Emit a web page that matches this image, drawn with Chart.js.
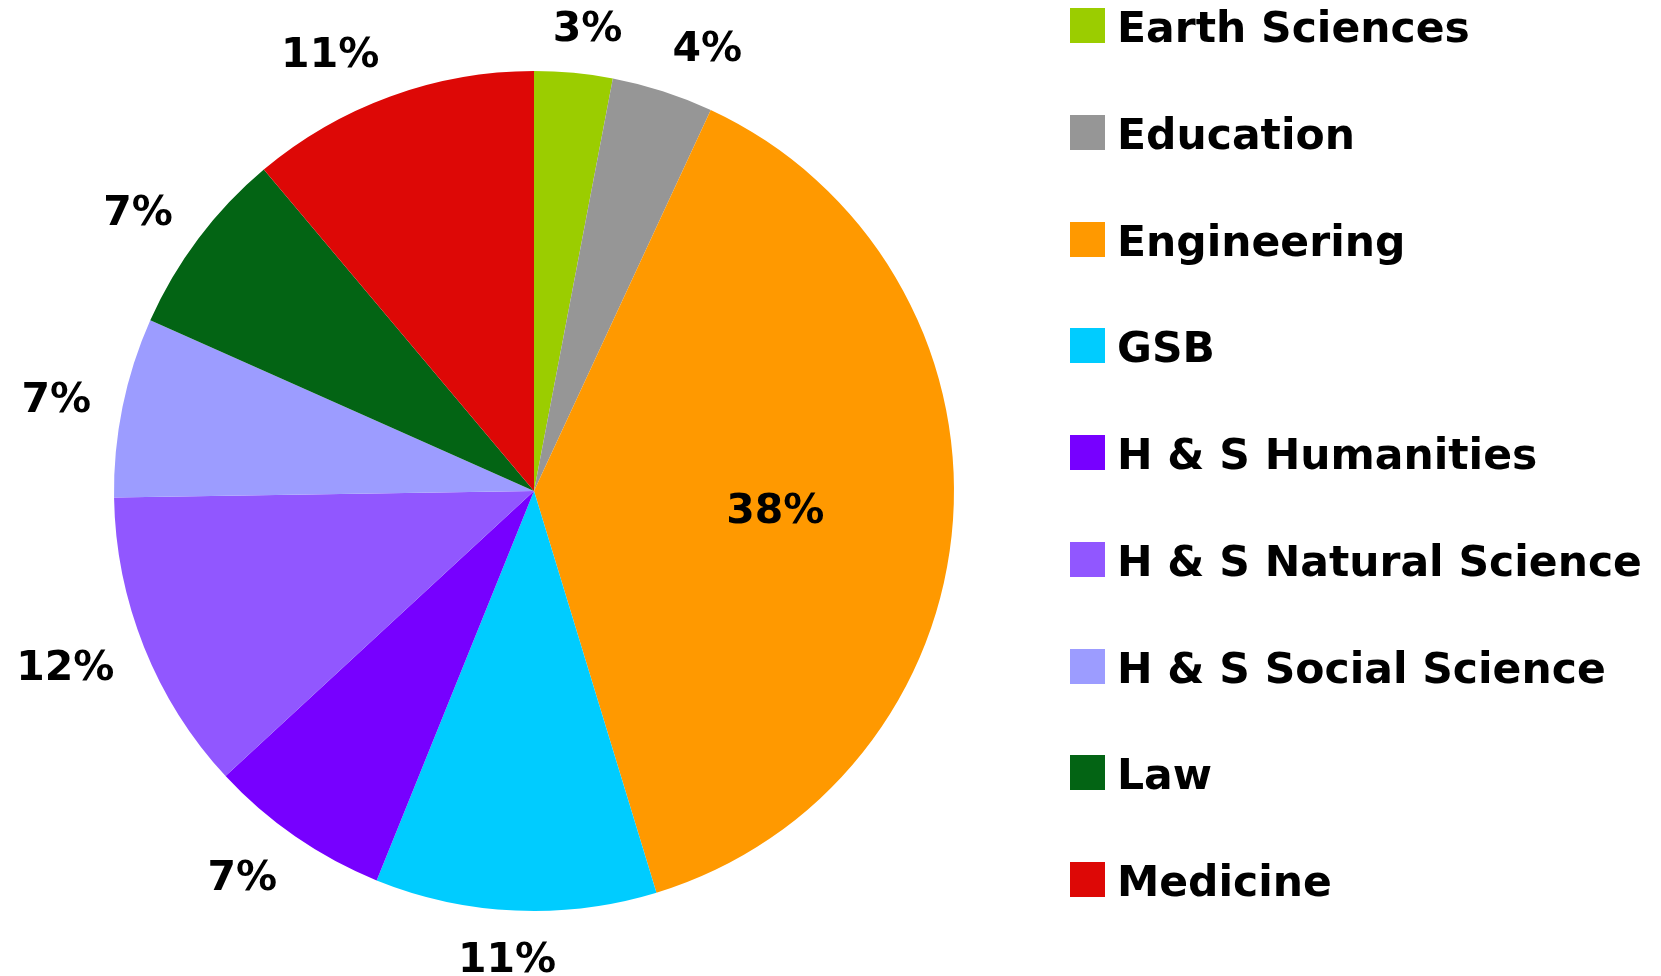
<!DOCTYPE html>
<html>
<head>
<meta charset="utf-8">
<script src="https://cdn.jsdelivr.net/npm/chart.js@4.4.1/dist/chart.umd.min.js"></script>
<style>
  html, body { margin: 0; padding: 0; background: #ffffff; }
  #wrap { position: relative; width: 1661px; height: 976px; overflow: hidden; }
  #wrap canvas { position: absolute; left: 0; top: 0; }
  #legend { position: absolute; left: 1070px; top: 8px; margin: 0; padding: 0; list-style: none;
            font-family: "DejaVu Sans", Verdana, sans-serif; font-weight: bold; font-size: 42.5px; color: #000; }
  #legend li { display: flex; align-items: center; height: 35px; margin-bottom: 71.75px; white-space: nowrap; }
  #legend .box { width: 35px; height: 35px; margin-right: 12px; flex: none; }
  #legend .txt { line-height: 42px; padding-top: 5px; }
</style>
</head>
<body>
<div id="wrap">
  <canvas id="c" width="1661" height="976"></canvas>
  <ul id="legend"></ul>
</div>
<script>
// ---- data ----
const categories = ["Earth Sciences", "Education", "Engineering", "GSB", "H & S Humanities",
                    "H & S Natural Science", "H & S Social Science", "Law", "Medicine"];
const shares = [3.0, 3.9, 38.3, 10.8, 7.0, 11.6, 6.9, 7.2, 11.1];
const sliceColors = ["#9BCD00", "#969696", "#FF9900", "#00CCFF", "#7700FF",
                     "#9157FF", "#9C9CFF", "#036414", "#DD0806"];
const insideLabels = [false, false, true, false, false, false, false, false, false];

// ---- legend (HTML, built from the arrays) ----
const legendEl = document.getElementById('legend');
categories.forEach((name, i) => {
  const li = document.createElement('li');
  const box = document.createElement('span');
  box.className = 'box';
  box.style.background = sliceColors[i];
  const txt = document.createElement('span');
  txt.className = 'txt';
  txt.textContent = name;
  li.appendChild(box); li.appendChild(txt);
  legendEl.appendChild(li);
});

// ---- percentage label plugin ----
const pctLabels = {
  id: 'pctLabels',
  afterDatasetsDraw(chart) {
    const ctx = chart.ctx;
    const meta = chart.getDatasetMeta(0);
    const data = chart.data.datasets[0].data;
    const total = data.reduce((a, b) => a + b, 0);
    const fontSize = 41;
    const capH = 0.729 * fontSize;
    ctx.save();
    ctx.font = 'bold ' + fontSize + 'px "DejaVu Sans", Verdana, sans-serif';
    ctx.fillStyle = '#000';
    ctx.textAlign = 'center';
    ctx.textBaseline = 'alphabetic';
    meta.data.forEach((arc, i) => {
      const p = arc.getProps(['x', 'y', 'startAngle', 'endAngle', 'outerRadius'], true);
      const mid = (p.startAngle + p.endAngle) / 2;
      const dx = Math.cos(mid), dy = Math.sin(mid);
      const text = Math.round(data[i] / total * 100) + '%';
      let cx, cy;
      if (insideLabels[i]) {
        const r = p.outerRadius * 0.576;
        cx = p.x + r * dx; cy = p.y + r * dy;
      } else {
        const w = ctx.measureText(text).width;
        const h = 30;
        const r = p.outerRadius + 32;
        const kx = Math.max(-1, Math.min(1, 3.3 * dx));
        cx = p.x + r * dx + (w / 2) * kx;
        cy = p.y + r * dy + (h / 2) * dy;
      }
      ctx.fillText(text, cx, cy + capH / 2);
    });
    ctx.restore();
  }
};

new Chart(document.getElementById('c'), {
  type: 'pie',
  data: {
    labels: categories,
    datasets: [{
      data: shares,
      backgroundColor: sliceColors,
      borderWidth: 0,
      hoverOffset: 0
    }]
  },
  options: {
    responsive: false,
    animation: false,
    layout: { padding: { left: 114, right: 707, top: 71, bottom: 65 } },
    plugins: {
      legend: { display: false },
      tooltip: { enabled: false }
    }
  },
  plugins: [pctLabels]
});
</script>
</body>
</html>
